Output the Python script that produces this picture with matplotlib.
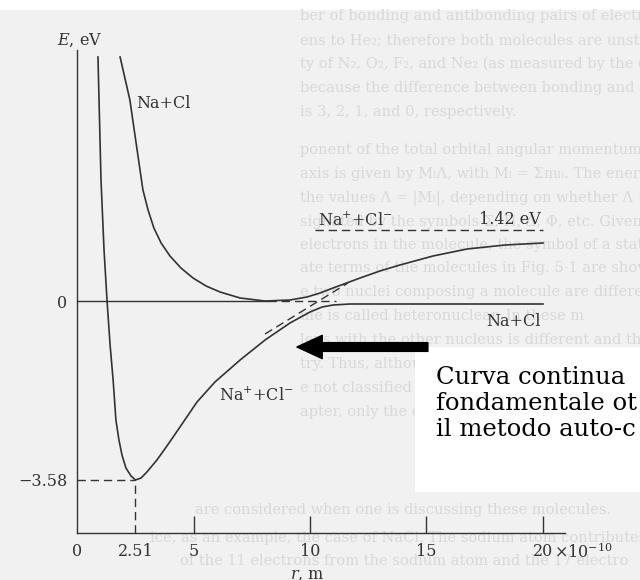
import matplotlib
matplotlib.use("Agg")
import matplotlib.pyplot as plt
from matplotlib.patches import Rectangle

# ── Data (r in 1e-10 m, E in eV) ──
r_lower = [0.90, 1.03, 1.16, 1.29, 1.42, 1.55, 1.67, 1.80, 1.93, 2.10, 2.32, 2.51,
           2.75, 3.00, 3.43, 3.86, 4.42, 5.15, 5.92, 7.00, 8.07, 9.14, 10.00,
           10.52, 10.99, 11.72, 20.00]
E_lower = [4.88, 2.42, 1.02, 0.00, -0.88, -1.58, -2.38, -2.78, -3.08, -3.34, -3.50, -3.58,
           -3.54, -3.42, -3.18, -2.90, -2.52, -2.02, -1.62, -1.18, -0.78, -0.44, -0.22,
           -0.12, -0.08, -0.06, -0.06]

r_upper = [1.85, 2.27, 2.58, 2.83, 3.05, 3.30, 3.61, 3.99, 4.46, 4.98, 5.54, 6.14,
           7.00, 8.07, 9.14, 9.87, 10.43, 10.99, 12.15, 13.00, 13.86, 15.28, 16.74,
           18.37, 20.00]
E_upper = [4.88, 4.02, 3.02, 2.22, 1.82, 1.46, 1.16, 0.90, 0.66, 0.46, 0.30, 0.18,
           0.06, 0.00, 0.02, 0.08, 0.16, 0.26, 0.46, 0.60, 0.72, 0.90, 1.04,
           1.12, 1.16]

# diabatic continuations near the crossing
r_zero_solid = [0.0, 8.2]
r_zero_dash = [8.2, 11.1]
r_ionic_dash = [8.07, 11.63]
E_ionic_dash = [-0.66, 0.36]

r_eq, E_min = 2.51, -3.58
ion_limit = 1.42
r_limit = [10.2, 20.0]

xticks = [0, 2.51, 5, 10, 15, 20]
xticklabels = ['0', '2.51', '5', '10', '15', '20']
yticks = [E_min, 0]
yticklabels = ['\u22123.58', '0']

# faded page text behind the figure
page_lines = [
    'ber of bonding and antibonding pairs of electrons and is not a',
    'ens to He\u2082; therefore both molecules are unstable. On the other',
    'ty of N\u2082, O\u2082, F\u2082, and Ne\u2082 (as measured by the dissociati',
    'because the difference between bonding and antibonding pai',
    'is 3, 2, 1, and 0, respectively.',
    'ponent of the total orbital angular momentum of the electro',
    'axis is given by M\u2097\u039b, with M\u2097 = \u03a3m\u2097\u1d62. The energy of a',
    'the values \u039b = |M\u2097|, depending on whether \u039b = 0, 1, 2,',
    'signated by the symbols \u03a3, \u03a0, \u0394, \u03a6, etc. Given that S is th',
    'electrons in the molecule, the symbol of a state or term is',
    'ate terms of the molecules in Fig. 5-1 are shown at the last',
    'e two nuclei composing a molecule are different, such as in',
    'ule is called heteronuclear. In these m',
    'leus with the other nucleus is different and th',
    'try. Thus, although the electronic sta',
    'e not classified as g and u. In general,',
    'apter, only the electronic states',
    'are considered when one is discussing these molecules.',
    'ice, as an example, the case of NaCl. The sodium atom contributes an',
    'of the 11 electrons from the sodium atom and the 17 electro',
]
page_x = [300] * 17 + [195, 150, 180]
page_y = [16, 40, 64, 88, 112, 150, 174, 198, 222, 245, 268, 292, 316, 340,
          364, 388, 412, 510, 538, 561]

note_lines = ['Curva continua', 'fondamentale ot', 'il metodo auto-c']

INK = '#333333'
W, H = 640, 580
plt.rcParams['font.family'] = 'DejaVu Serif'
plt.rcParams['mathtext.fontset'] = 'dejavuserif'

fig = plt.figure(figsize=(W / 100, H / 100), dpi=100, facecolor='white')

# scanned page background
fig.patches.append(Rectangle((0, 0), 1, (H - 10) / H, transform=fig.transFigure,
                             facecolor='#f1f1f1', edgecolor='none', zorder=-2))
for txt, px, py in zip(page_lines, page_x, page_y):
    fig.text(px / W, 1 - py / H, txt, fontsize=10.5, color='#d8d8d8',
             va='center', ha='left', zorder=-1)

# axes placed to match the scan (pixels: left 77, right 565, top 50, bottom 533)
ax = fig.add_axes([77 / W, 1 - 533 / H, (565 - 77) / W, (533 - 50) / H])
ax.set_zorder(1)
ax.patch.set_visible(False)
ax.set_xlim(0, (565 - 77) / 23.3)
ax.set_ylim(-(533 - 301) / 50, (301 - 50) / 50)

for s in ['top', 'right']:
    ax.spines[s].set_visible(False)
for s in ['left', 'bottom']:
    ax.spines[s].set_color(INK)
    ax.spines[s].set_linewidth(1.0)

ax.plot(r_lower, E_lower, color=INK, lw=1.2, solid_joinstyle='round', clip_on=False)
ax.plot(r_upper, E_upper, color=INK, lw=1.2, solid_joinstyle='round', clip_on=False)
ax.plot(r_zero_solid, [0, 0], color=INK, lw=1.0)
ax.plot(r_zero_dash, [0, 0], color=INK, lw=1.0, dashes=(6, 3.5))
ax.plot(r_ionic_dash, E_ionic_dash, color=INK, lw=1.0, dashes=(6, 3.5))
ax.plot(r_limit, [ion_limit, ion_limit], color=INK, lw=1.0, dashes=(6, 3.5))
ax.plot([0, r_eq], [E_min, E_min], color=INK, lw=1.0, dashes=(6, 3.5))
ax.plot([r_eq, r_eq], [ax.get_ylim()[0], E_min], color=INK, lw=1.0, dashes=(6, 3.5))

ax.set_xticks(xticks)
ax.set_xticklabels(xticklabels)
ax.set_yticks(yticks)
ax.set_yticklabels(yticklabels)
ax.tick_params(axis='x', direction='in', length=12, width=1.0, color=INK,
               labelsize=11.5, labelcolor=INK, pad=7)
ax.tick_params(axis='y', length=0, labelsize=11.5, labelcolor=INK, pad=7)
for t in ax.xaxis.get_major_ticks()[:2]:
    t.tick1line.set_visible(False)

ax.annotate('\u00d710$^{-10}$', xy=(20, ax.get_ylim()[0]), xytext=(11, -10),
            textcoords='offset pixels', ha='left', va='top', fontsize=11.5, color=INK,
            annotation_clip=False)
ax.annotate('$r$, m', xy=(9.87, ax.get_ylim()[0]), xytext=(0, -33),
            textcoords='offset pixels', ha='center', va='top', fontsize=11.5,
            color=INK, annotation_clip=False)
ax.text(0.1, 5.22, '$E$, eV', ha='center', va='center', fontsize=11.5, color=INK,
        clip_on=False)

# curve labels
ax.text(3.73, 3.96, 'Na+Cl', ha='center', va='center', fontsize=11.5, color=INK)
ax.text(11.93, 1.62, 'Na$^{+}$+Cl$^{-}$', ha='center', va='center', fontsize=11.5, color=INK)
ax.text(19.9, 1.62, '1.42 eV', ha='right', va='center', fontsize=11.5, color=INK)
ax.text(19.9, -0.4, 'Na+Cl', ha='right', va='center', fontsize=11.5, color=INK)
ax.text(7.7, -1.88, 'Na$^{+}$+Cl$^{-}$', ha='center', va='center', fontsize=11.5, color=INK)

# overlaid note with arrow
ax.add_patch(Rectangle((415 / W, 1 - 492 / H), (W - 415) / W, (492 - 347) / H,
                       transform=fig.transFigure, facecolor='white',
                       edgecolor='none', zorder=5, clip_on=False))
for i, line in enumerate(note_lines):
    ax.text(436 / W, 1 - (384 + 26 * i) / H, line, fontsize=17.5, color='black',
            ha='left', va='baseline', transform=fig.transFigure, zorder=6,
            clip_on=False)
ax.annotate('', xy=(9.44, -0.92), xytext=(15.06, -0.92),
            arrowprops=dict(arrowstyle='simple,head_length=1.3,head_width=1.2,tail_width=0.45',
                            color='black', mutation_scale=14, shrinkA=0, shrinkB=0),
            zorder=7, annotation_clip=False)

fig.savefig('out.png', dpi=100, facecolor='white')
